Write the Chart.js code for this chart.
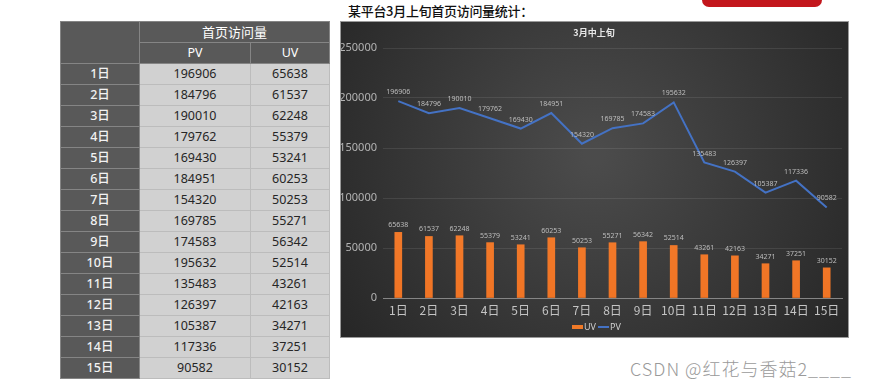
<!DOCTYPE html>
<html>
<head>
<meta charset="utf-8">
<script src="https://cdn.jsdelivr.net/npm/chart.js@4/dist/chart.umd.min.js"></script>
<style>
  html, body { margin:0; padding:0; background:#fff; width:869px; height:388px; overflow:hidden; position:relative;
    font-family: "Noto Sans", "Noto Sans CJK SC", sans-serif; }
  #redbar { position:absolute; left:702px; top:-8px; width:120px; height:15px; border-radius:7px; background:#c3161c; }
  #heading { position:absolute; left:348px; top:1px; font-size:13px; font-weight:500; color:#111;
    font-family: "Noto Sans CJK SC", sans-serif; letter-spacing:-0.3px; }
  #tbl { position:absolute; left:60px; top:21px; border-collapse:collapse; table-layout:fixed; }
  #tbl td { padding:0; height:20px; text-align:center; font-size:12.5px; line-height:20px; box-sizing:border-box; }
  #tbl td.dk { background:#595959; color:#fff; border:1px solid #858585; }
  #tbl td.day { background:#595959; color:#f2f2f2; border:1px solid #858585; font-weight:500; }
  #tbl td.lt { background:#d1d1d1; color:#262626; border:1px solid #bcbcbc; }
  #panel { position:absolute; left:340px; top:21px; width:509px; height:317px; box-sizing:border-box;
    border:1px solid #9a9a9a; overflow:hidden; }
  #panel canvas { position:absolute; left:-1px; top:-1px; }
  #wm { position:absolute; left:630px; top:355px; font-size:18px; color:#9a9a9a; white-space:nowrap;
    font-family: "Noto Sans CJK SC", sans-serif; font-weight:300; letter-spacing:1px; }
</style>
</head>
<body>
<div id="redbar"></div>
<div id="heading">某平台3月上旬首页访问量统计：</div>
<table id="tbl"></table>
<div id="panel"><canvas id="c" width="509" height="317"></canvas></div>
<div id="wm">CSDN @红花与香菇2____</div>
<script>
const days = ["1日","2日","3日","4日","5日","6日","7日","8日","9日","10日","11日","12日","13日","14日","15日"];
const pv = [196906,184796,190010,179762,169430,184951,154320,169785,174583,195632,135483,126397,105387,117336,90582];
const uv = [65638,61537,62248,55379,53241,60253,50253,55271,56342,52514,43261,42163,34271,37251,30152];
const tableHeader = "首页访问量";
const chartTitle = "3月中上旬";

// table
const tbl = document.getElementById('tbl');
let html = '<colgroup><col style="width:79px"><col style="width:111px"><col style="width:79px"></colgroup>';
html += '<tr><td class="dk" rowspan="2"></td><td class="dk" colspan="2" style="font-size:13px">' + tableHeader + '</td></tr>';
html += '<tr><td class="dk">PV</td><td class="dk">UV</td></tr>';
for (let i = 0; i < days.length; i++) {
  html += '<tr><td class="day">' + days[i] + '</td><td class="lt">' + pv[i] + '</td><td class="lt">' + uv[i] + '</td></tr>';
}
tbl.innerHTML = html;

const bgPlugin = {
  id: 'bg',
  beforeDraw(chart) {
    const { ctx, width, height } = chart;
    const g = ctx.createRadialGradient(width * 0.5, height * 0.42, 10, width * 0.5, height * 0.42, width * 0.62);
    g.addColorStop(0, '#4b4b4b');
    g.addColorStop(1, '#262626');
    ctx.save();
    ctx.fillStyle = g;
    ctx.fillRect(0, 0, width, height);
    ctx.restore();
  },
  afterDraw(chart) {
    const { ctx } = chart;
    ctx.save();
    // title
    ctx.fillStyle = '#e6e6e6';
    ctx.font = 'bold 9px "Noto Sans CJK SC", sans-serif';
    ctx.textAlign = 'center';
    ctx.textBaseline = 'middle';
    ctx.fillText(chartTitle, 254, 12);
    // data labels
    ctx.font = '7px "Noto Sans", sans-serif';
    ctx.fillStyle = '#bdbdbd';
    const barMeta = chart.getDatasetMeta(0);
    barMeta.data.forEach((el, i) => { ctx.fillText(String(uv[i]), el.x, el.y - 7); });
    const lineMeta = chart.getDatasetMeta(1);
    lineMeta.data.forEach((el, i) => { ctx.fillText(String(pv[i]), el.x, el.y - 9); });
    // legend
    const ly = 306;
    ctx.font = '9px "Noto Sans", sans-serif';
    ctx.textAlign = 'left';
    ctx.fillStyle = '#f07a28';
    ctx.fillRect(232, ly - 2, 11, 4);
    ctx.fillStyle = '#cfcfcf';
    ctx.fillText('UV', 244, ly);
    ctx.strokeStyle = '#4472c4';
    ctx.lineWidth = 2;
    ctx.beginPath(); ctx.moveTo(258, ly); ctx.lineTo(269, ly); ctx.stroke();
    ctx.fillText('PV', 270, ly);
    ctx.restore();
  }
};

const ctx = document.getElementById('c').getContext('2d');
const barGrad = ctx.createLinearGradient(0, 0, 0, 277);
barGrad.addColorStop(0, '#f78a3c');
barGrad.addColorStop(1, '#f07424');

new Chart(ctx, {
  data: {
    labels: days,
    datasets: [
      { type: 'bar', label: 'UV', data: uv, backgroundColor: barGrad, barThickness: 7, order: 2 },
      { type: 'line', label: 'PV', data: pv, borderColor: '#4472c4', borderWidth: 2, pointRadius: 0, tension: 0, order: 1 }
    ]
  },
  options: {
    responsive: false,
    animation: false,
    devicePixelRatio: 1,
    layout: { padding: { left: 0, right: 7, top: 27, bottom: 0 } },
    plugins: { legend: { display: false }, title: { display: false }, tooltip: { enabled: false } },
    scales: {
      x: {
        offset: true,
        grid: { display: false, drawTicks: false },
        border: { display: true, color: '#858585', width: 1 },
        ticks: { color: '#c4c4c4', font: { size: 12, family: '"Noto Sans CJK SC", sans-serif' }, padding: 5, maxRotation: 0 },
        afterFit(s) { s.height = 40; }
      },
      y: {
        min: 0, max: 250000,
        ticks: { stepSize: 50000, color: '#b3b3b3', font: { size: 11, family: '"Noto Sans", sans-serif' }, padding: 6,
          callback: (v) => String(v) },
        grid: { color: 'rgba(255,255,255,0.09)', drawTicks: false },
        border: { display: false },
        afterFit(s) { s.width = 43; }
      }
    }
  },
  plugins: [bgPlugin]
});
</script>
</body>
</html>
